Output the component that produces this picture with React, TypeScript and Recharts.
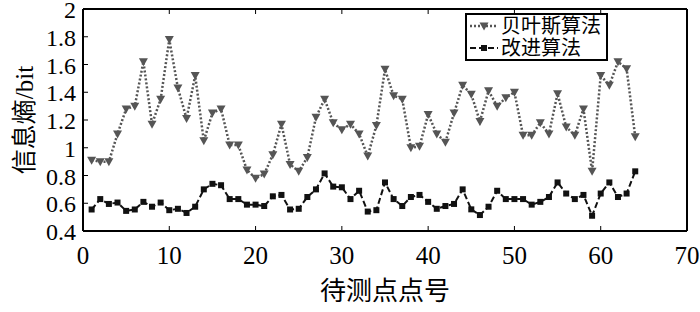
import { LineChart, Line, XAxis, YAxis } from 'recharts';

const pointNo = Array.from({ length: 64 }, (_, i) => i + 1);

const bayes = [
  0.91, 0.9, 0.9, 1.1, 1.28, 1.3, 1.62, 1.17, 1.35, 1.78,
  1.43, 1.21, 1.52, 1.05, 1.25, 1.28, 1.02, 1.02, 0.84, 0.78,
  0.81, 0.95, 1.17, 0.88, 0.83, 0.93, 1.22, 1.35, 1.18, 1.13,
  1.17, 1.1, 0.94, 1.16, 1.565, 1.375, 1.35, 1.0, 1.01, 1.24,
  1.1, 1.04, 1.25, 1.45, 1.385, 1.19, 1.41, 1.3, 1.36, 1.4,
  1.09, 1.09, 1.18, 1.1, 1.39, 1.15, 1.09, 1.28, 0.83, 1.52,
  1.45, 1.62, 1.57, 1.08
];

const improved = [
  0.555, 0.63, 0.595, 0.605, 0.545, 0.555, 0.61, 0.575, 0.605, 0.55,
  0.56, 0.53, 0.575, 0.7, 0.74, 0.73, 0.63, 0.63, 0.59, 0.59,
  0.58, 0.65, 0.66, 0.555, 0.56, 0.645, 0.7, 0.815, 0.72, 0.715,
  0.63, 0.69, 0.54, 0.55, 0.75, 0.63, 0.58, 0.645, 0.66, 0.61,
  0.56, 0.58, 0.595, 0.7, 0.556, 0.515, 0.575, 0.69, 0.63, 0.63,
  0.63, 0.59, 0.61, 0.645, 0.75, 0.67, 0.63, 0.66, 0.51, 0.67,
  0.75, 0.645, 0.67, 0.83
];

const xTicks = [0, 10, 20, 30, 40, 50, 60, 70];
const yTicks = [0.4, 0.6, 0.8, 1, 1.2, 1.4, 1.6, 1.8, 2];

const seriesNames = ['贝叶斯算法', '改进算法'];

const data = pointNo.map((n, i) => ({ n, bayes: bayes[i], improved: improved[i] }));

const FONT = "'Liberation Serif', 'Noto Sans CJK SC', serif";
const BAYES_COLOR = '#555555';

const BottomTick = ({ x, y, payload }: any) => (
  <g>
    <line x1={x} y1={y} x2={x} y2={y - 5} stroke="#000" />
    <text x={x} y={y + 33} textAnchor="middle" fontSize={25} fontFamily={FONT} fill="#000">
      {payload.value}
    </text>
  </g>
);

const TopTick = ({ x, y }: any) => <line x1={x} y1={y} x2={x} y2={y + 5} stroke="#000" />;

const LeftTick = ({ x, y, payload }: any) => (
  <g>
    <line x1={x} y1={y} x2={x + 5} y2={y} stroke="#000" />
    <text x={x - 7} y={y + 9} textAnchor="end" fontSize={24} fontFamily={FONT} fill="#000">
      {String(payload.value)}
    </text>
  </g>
);

const RightTick = ({ x, y }: any) => <line x1={x} y1={y} x2={x - 5} y2={y} stroke="#000" />;

const Triangle = ({ cx, cy, index }: any) => (
  <path
    key={`t${index}`}
    d={`M${cx - 4.5},${cy - 3.5}L${cx + 4.5},${cy - 3.5}L${cx},${cy + 4.5}Z`}
    fill={BAYES_COLOR}
  />
);

const Square = ({ cx, cy, index }: any) => (
  <rect key={`s${index}`} x={cx - 3} y={cy - 3} width={6} height={6} fill="#111" />
);

const YLabel = ({ viewBox }: any) => {
  const cy = viewBox.y + viewBox.height / 2;
  return (
    <text
      x={24}
      y={cy}
      transform={`rotate(-90 24 ${cy})`}
      textAnchor="middle"
      dominantBaseline="central"
      fontSize={25}
      fontFamily={FONT}
      fill="#000"
    >
      信息熵/bit
    </text>
  );
};

const XLabel = ({ viewBox }: any) => (
  <text
    x={viewBox.x + viewBox.width / 2}
    y={300}
    textAnchor="middle"
    fontSize={26}
    fontFamily={FONT}
    fill="#000"
  >
    待测点点号
  </text>
);

const LegendBox = () => (
  <div
    style={{
      position: 'absolute',
      left: 465,
      top: 13,
      border: '2px solid #000',
      background: '#fff',
      width: 139,
      height: 44,
      fontFamily: FONT,
      fontSize: 20,
      lineHeight: '22px',
      color: '#000'
    }}
  >
    <div style={{ display: 'flex', alignItems: 'center', height: 22 }}>
      <svg width={34} height={22}>
        <line x1={3} y1={11} x2={31} y2={11} stroke={BAYES_COLOR} strokeWidth={2.5} strokeDasharray="2 2" />
        <path d="M12.5,7.5L21.5,7.5L17,15.5Z" fill={BAYES_COLOR} />
      </svg>
      <span>{seriesNames[0]}</span>
    </div>
    <div style={{ display: 'flex', alignItems: 'center', height: 22 }}>
      <svg width={34} height={22}>
        <line x1={3} y1={11} x2={31} y2={11} stroke="#111" strokeWidth={2} strokeDasharray="6 3" />
        <rect x={14} y={8} width={6} height={6} fill="#111" />
      </svg>
      <span>{seriesNames[1]}</span>
    </div>
  </div>
);

export default function App() {
  return (
    <div style={{ position: 'absolute', left: 0, top: 0, width: 700, height: 312, background: '#fff' }}>
      <LineChart width={700} height={312} data={data} margin={{ top: 8, right: 12, left: 0, bottom: 0 }}>
        <XAxis
          dataKey="n"
          type="number"
          domain={[0, 70]}
          ticks={xTicks}
          interval={0}
          xAxisId="bottom"
          orientation="bottom"
          height={81}
          tickSize={0}
          tickMargin={0}
          tick={<BottomTick />}
          axisLine={{ stroke: '#000', strokeWidth: 2 }}
          label={<XLabel />}
        />
        <XAxis
          dataKey="n"
          type="number"
          domain={[0, 70]}
          ticks={xTicks}
          interval={0}
          xAxisId="top"
          orientation="top"
          height={1}
          tickSize={0}
          tickMargin={0}
          tick={<TopTick />}
          axisLine={{ stroke: '#000', strokeWidth: 2 }}
        />
        <YAxis
          yAxisId="left"
          type="number"
          domain={[0.4, 2]}
          ticks={yTicks}
          interval={0}
          width={83}
          tickSize={0}
          tickMargin={0}
          tick={<LeftTick />}
          axisLine={{ stroke: '#000', strokeWidth: 2 }}
          label={<YLabel />}
        />
        <YAxis
          yAxisId="right"
          orientation="right"
          type="number"
          domain={[0.4, 2]}
          ticks={yTicks}
          interval={0}
          width={1}
          tickSize={0}
          tickMargin={0}
          tick={<RightTick />}
          axisLine={{ stroke: '#000', strokeWidth: 2 }}
        />
        <Line
          xAxisId="bottom"
          yAxisId="left"
          dataKey="bayes"
          name={seriesNames[0]}
          stroke={BAYES_COLOR}
          strokeWidth={2.5}
          strokeDasharray="2 2"
          dot={<Triangle />}
          isAnimationActive={false}
        />
        <Line
          xAxisId="bottom"
          yAxisId="left"
          dataKey="improved"
          name={seriesNames[1]}
          stroke="#111"
          strokeWidth={2}
          strokeDasharray="6 3"
          dot={<Square />}
          isAnimationActive={false}
        />
      </LineChart>
      <LegendBox />
    </div>
  );
}
